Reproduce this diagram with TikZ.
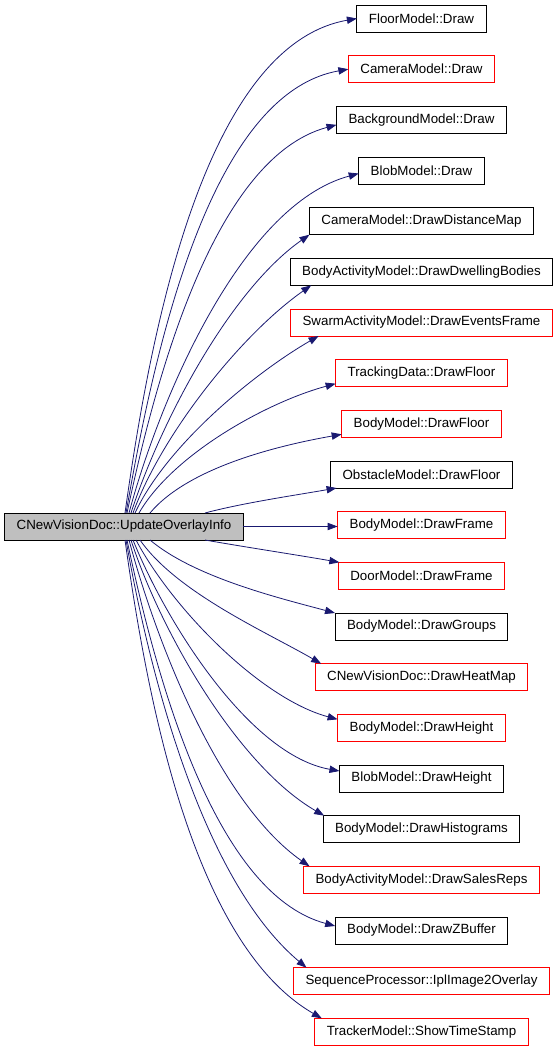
\documentclass[tikz,border=0pt]{standalone}
\usepackage{fontspec}
\setmainfont{Liberation Sans}
\usepackage{xcolor}
\usepackage{tikz}
\usetikzlibrary{arrows.meta, positioning, calc}

\definecolor{edgeblue}{HTML}{191970}
\definecolor{rootgray}{HTML}{BFBFBF}

\begin{document}
\begin{tikzpicture}[
  x=0.75pt, y=0.75pt,
  node distance=17.75pt,
  func/.style={draw, line width=0.75pt, minimum height=20.25pt, inner xsep=9pt,
               inner ysep=2pt, outer sep=0pt, font=\fontsize{10}{12}\selectfont},
  undoc/.style={func, draw=red},
  root/.style={func, fill=rootgray},
  call/.style={-{Triangle[length=7.5pt, width=5.5pt]}, draw=edgeblue, line width=0.6pt,
               looseness=0.75},
]
  \useasboundingbox (0,0) rectangle (557,-1050);

  \node[func] (floor) at (421.5,-18.5) {FloorModel::Draw};
  \node[undoc, below=of floor] (camdraw) {CameraModel::Draw};
  \node[func, below=of camdraw] (bgdraw) {BackgroundModel::Draw};
  \node[func, below=of bgdraw] (blobdraw) {BlobModel::Draw};
  \node[func, below=of blobdraw] (camdist) {CameraModel::DrawDistanceMap};
  \node[func, below=of camdist] (dwelling) {BodyActivityModel::DrawDwellingBodies};
  \node[undoc, below=of dwelling] (swarm) {SwarmActivityModel::DrawEventsFrame};
  \node[undoc, below=of swarm] (trackfloor) {TrackingData::DrawFloor};
  \node[undoc, below=of trackfloor] (bodyfloor) {BodyModel::DrawFloor};
  \node[func, below=of bodyfloor] (obstfloor) {ObstacleModel::DrawFloor};
  \node[undoc, below=of obstfloor] (bodyframe) {BodyModel::DrawFrame};
  \node[undoc, below=of bodyframe] (doorframe) {DoorModel::DrawFrame};
  \node[func, below=of doorframe] (groups) {BodyModel::DrawGroups};
  \node[undoc, below=of groups] (heatmap) {CNewVisionDoc::DrawHeatMap};
  \node[undoc, below=of heatmap] (bodyheight) {BodyModel::DrawHeight};
  \node[func, below=of bodyheight] (blobheight) {BlobModel::DrawHeight};
  \node[func, below=of blobheight] (histo) {BodyModel::DrawHistograms};
  \node[undoc, below=of histo] (salesreps) {BodyActivityModel::DrawSalesReps};
  \node[func, below=of salesreps] (zbuffer) {BodyModel::DrawZBuffer};
  \node[undoc, below=of zbuffer] (iplimage) {SequenceProcessor::IplImage2Overlay};
  \node[undoc, below=of iplimage] (timestamp) {TrackerModel::ShowTimeStamp};

  \node[root] (update) at (124,-526.5) {CNewVisionDoc::UpdateOverlayInfo};

  % calls above
  \draw[call] ($(update.north)+(1,0)$) to[out=82, in=190] (floor.west);
  \draw[call] ($(update.north)+(2,0)$) to[out=80, in=190] (camdraw.west);
  \draw[call] ($(update.north)+(3,0)$) to[out=78, in=195] ($(bgdraw.west)+(0,-5)$);
  \draw[call] ($(update.north)+(5,0)$) to[out=75, in=195] ($(blobdraw.west)+(0,-3)$);
  \draw[call] ($(update.north)+(7,0)$) to[out=72, in=215] (camdist.south west);
  \draw[call] ($(update.north)+(9,0)$) to[out=70, in=215] ($(dwelling.south west)+(21,0)$);
  \draw[call] ($(update.north)+(11,0)$) to[out=65, in=210] ($(swarm.south west)+(28,0)$);
  \draw[call] ($(update.north)+(15,0)$) to[out=60, in=195] ($(trackfloor.south west)+(0,3)$);
  \draw[call] ($(update.north)+(26,0)$) to[out=50, in=190] ($(bodyfloor.south west)+(0,3)$);
  \draw[call] ($(update.north)+(81,0)$) to[out=15, in=190] ($(obstfloor.south west)+(6,0)$);

  \draw[call] (update.east) -- (update.east -| bodyframe.west);

  % calls below
  \draw[call] ($(update.south)+(81,0)$) to[out=-10, in=170] ($(doorframe.north west)+(1,0)$);
  \draw[call] ($(update.south)+(26,0)$) to[out=-40, in=165] (groups.north west);
  \draw[call] ($(update.south)+(16,0)$) to[out=-55, in=150] ($(heatmap.north west)+(6,0)$);
  \draw[call] ($(update.south)+(12,0)$) to[out=-62, in=165] ($(bodyheight.north west)+(0,-5)$);
  \draw[call] ($(update.south)+(9,0)$) to[out=-68, in=170] ($(blobheight.north west)+(0,-6)$);
  \draw[call] ($(update.south)+(7,0)$) to[out=-72, in=150] ($(histo.north west)+(1,0)$);
  \draw[call] ($(update.south)+(5,0)$) to[out=-75, in=145] ($(salesreps.north west)+(6,0)$);
  \draw[call] ($(update.south)+(3,0)$) to[out=-78, in=165] ($(zbuffer.north west)+(0,-9)$);
  \draw[call] ($(update.south)+(2,0)$) to[out=-80, in=140] ($(iplimage.north west)+(13,0)$);
  \draw[call] ($(update.south)+(1,0)$) to[out=-82, in=150] ($(timestamp.north west)+(7,0)$);

\end{tikzpicture}
\end{document}
